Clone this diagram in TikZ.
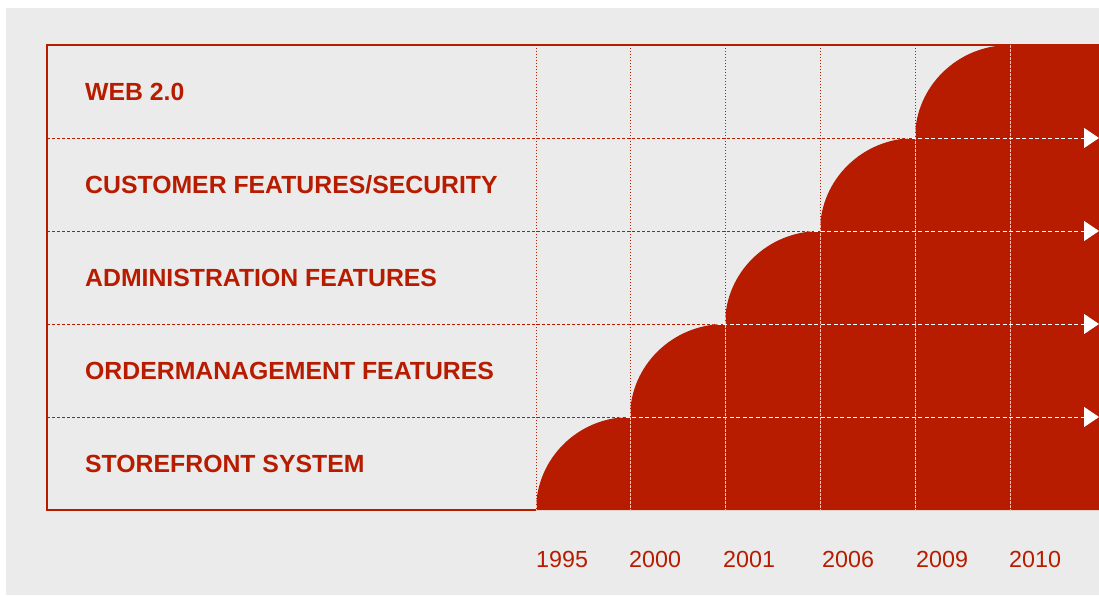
\documentclass[tikz,border=0pt]{standalone}
\usepackage{fontspec}
\setmainfont{Liberation Sans}
\usetikzlibrary{arrows.meta, positioning}
\definecolor{chartred}{HTML}{B71C00}
\definecolor{chartgray}{HTML}{EBEBEB}
% staircase of quarter arcs, one step per release
\newcommand{\stairpath}{(536,85)
  arc[start angle=180, end angle=90, x radius=94, y radius=93]
  arc[start angle=180, end angle=90, x radius=95, y radius=93]
  arc[start angle=180, end angle=90, x radius=95, y radius=93]
  arc[start angle=180, end angle=90, x radius=95, y radius=93]
  arc[start angle=180, end angle=90, x radius=95, y radius=93]
  -- (1099,550) -- (1099,85) -- cycle}

\begin{document}
\begin{tikzpicture}[x=1pt, y=1pt,
    rowlabel/.style={anchor=west, inner sep=0pt, text=chartred,
      font=\fontsize{24.8}{29}\selectfont\bfseries,
      text height=17.7pt, text depth=0pt},
    yearlabel/.style={anchor=west, inner sep=0pt, text=chartred,
      font=\fontsize{23.3}{28}\selectfont,
      text height=16.7pt, text depth=0pt},
    gridred/.style={draw=chartred, line width=0.9pt, dash pattern=on 3pt off 2pt},
    gridredv/.style={draw=chartred, line width=0.9pt, dash pattern=on 1pt off 2pt},
    gridwhite/.style={draw=white, line width=0.9pt, dash pattern=on 4pt off 2.5pt},
    gridwhitev/.style={draw=white!75!chartred, line width=1pt, dash pattern=on 3pt off 1pt},
    frame/.style={draw=chartred, line width=1.2pt},
    >={Triangle[length=15pt, width=20pt]}
  ]
  \useasboundingbox (0,0) rectangle (1099,595);
  \fill[white] (0,0) rectangle (1099,595);
  \fill[chartgray] (6,0) rectangle (1099,587);

  % frame
  \draw[frame] (1099,550) -- (47,550) -- (47,85) -- (536,85);

  % row separators and arrow ends
  \coordinate (s1) at (47,457);  \coordinate (a1) at (1099,457);
  \coordinate (s2) at (47,364);  \coordinate (a2) at (1099,364);
  \coordinate (s3) at (47,271);  \coordinate (a3) at (1099,271);
  \coordinate (s4) at (47,178);  \coordinate (a4) at (1099,178);
  \foreach \i in {1,...,4}
    \draw[gridred] (s\i) -- (a\i);
  \foreach \xx in {536,630,725,820,915,1010}
    \draw[gridredv] (\xx,550) -- (\xx,85);

  % growth area
  \fill[chartred] \stairpath;
  \begin{scope}
    \clip \stairpath;
    \foreach \xx in {536,630,725,820,915,1010}
      \draw[gridwhitev] (\xx,550) -- (\xx,85);
    \foreach \i in {1,...,4}
      \draw[gridwhite, ->] (s\i) -- (a\i);
  \end{scope}

  % rows
  \node[rowlabel] (web) at (85,503) {WEB 2.0};
  \node[rowlabel] (customer) at (85,410.5) {CUSTOMER FEATURES/SECURITY};
  \node[rowlabel] (admin) at (85,317.5) {ADMINISTRATION FEATURES};
  \node[rowlabel] (order) at (85,224.5) {ORDERMANAGEMENT FEATURES};
  \node[rowlabel] (store) at (85,131.5) {STOREFRONT SYSTEM};

  % years
  \node[yearlabel] (y1995) at (536,36) {1995};
  \node[yearlabel] (y2000) at (629,36) {2000};
  \node[yearlabel] (y2001) at (723,36) {2001};
  \node[yearlabel] (y2006) at (822,36) {2006};
  \node[yearlabel] (y2009) at (916,36) {2009};
  \node[yearlabel] (y2010) at (1009,36) {2010};
\end{tikzpicture}
\end{document}
